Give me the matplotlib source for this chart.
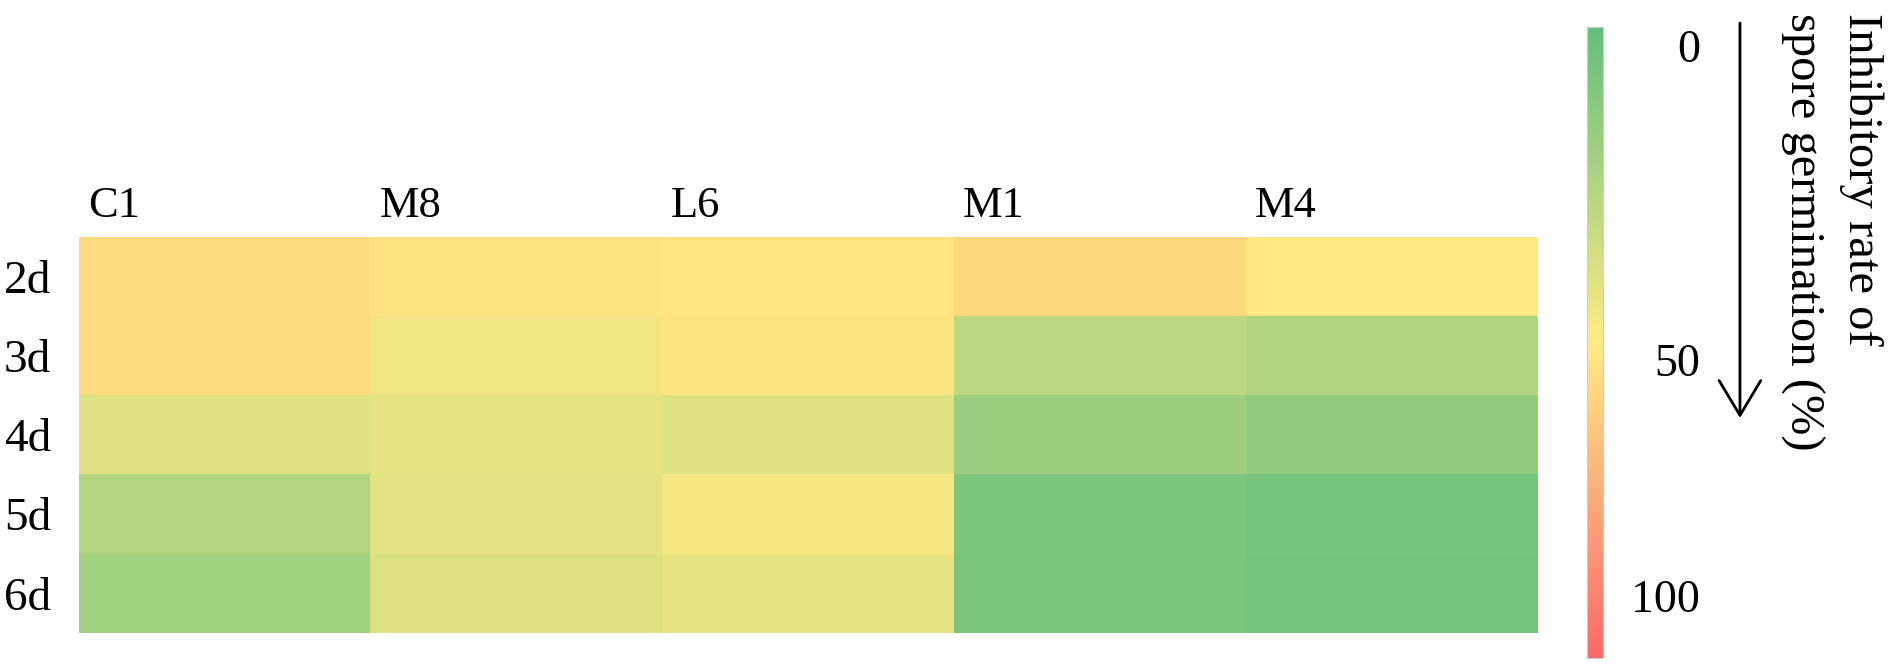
import numpy as np
import matplotlib
matplotlib.use("Agg")
import matplotlib.pyplot as plt
from matplotlib.colors import LinearSegmentedColormap

# inhibitory rate of spore germination (%)
strains = ["C1", "M8", "L6", "M1", "M4"]
days = ["2d", "3d", "4d", "5d", "6d"]
rate_2d = [56, 53, 52, 57, 51]
rate_3d = [56, 45, 53, 29, 25]
rate_4d = [40, 42, 40, 18, 15]
rate_5d = [26, 41, 47, 8, 7]
rate_6d = [20, 39, 43, 8, 6]
cbar_ticks = [2.9, 52.8, 90.2]
cbar_labels = ["0", "50", "100"]

plt.rcParams["font.family"] = ["Liberation Serif", "DejaVu Serif"]

data = np.array([rate_2d, rate_3d, rate_4d, rate_5d, rate_6d])
cmap = LinearSegmentedColormap.from_list(
    "gyr", ["#63BE7B", "#FFEB84", "#F8696B"])

fig = plt.figure(figsize=(19.02, 6.67), dpi=100)
ax = fig.add_axes([0.0415, 0.051, 0.767, 0.5937])
im = ax.imshow(data, cmap=cmap, vmin=0, vmax=100, aspect="auto",
               interpolation="nearest")
for s in ax.spines.values():
    s.set_visible(False)

ax.xaxis.tick_top()
ax.set_xticks(np.arange(len(strains)) - 0.47)
ax.set_xticklabels(strains, ha="left", fontsize=32)
ax.set_yticks(np.arange(len(days)))
ax.set_yticklabels(days, fontsize=34)
ax.tick_params(length=0)
ax.tick_params(axis="x", pad=8)
ax.tick_params(axis="y", pad=20)

# colour scale
cax = fig.add_axes([0.8344, 0.0135, 0.0084, 0.946])
cb = fig.colorbar(im, cax=cax)
cb.outline.set_edgecolor("#cccccc")
cb.outline.set_linewidth(0.8)
cax.invert_yaxis()
cax.set_yticks(cbar_ticks)
cax.set_yticklabels(cbar_labels, fontsize=33, ha="right")
cax.tick_params(length=0, pad=70)

# arrow and title
ax2 = fig.add_axes([0, 0, 1, 1], facecolor="none")
ax2.set_axis_off()
ax2.set_xlim(0, 1)
ax2.set_ylim(0, 1)
ax2.annotate("", xy=(0.9148, 0.3733), xytext=(0.9148, 0.9655),
             arrowprops=dict(arrowstyle="->,head_length=2.5,head_width=1.5",
                             lw=2, color="black", shrinkA=0, shrinkB=0,
                             mutation_scale=10))
fig.text(0.963, 0.9805, "Inhibitory rate of\nspore germination (%)",
         rotation=270, ha="center", va="top", fontsize=35,
         linespacing=1.45, multialignment="left")

fig.savefig("out.png", dpi=100)
